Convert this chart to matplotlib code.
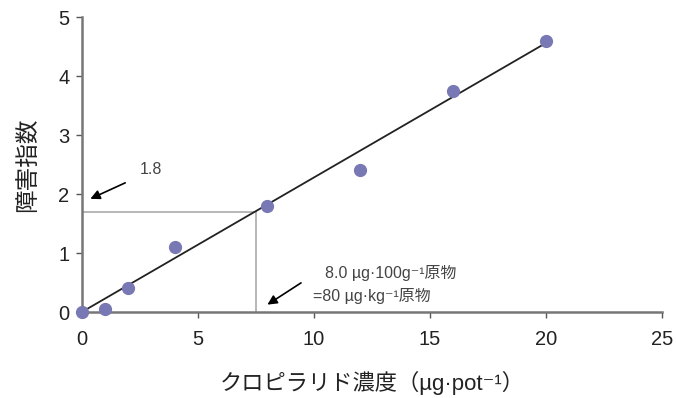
import matplotlib
matplotlib.use("Agg")
import matplotlib.pyplot as plt
import numpy as np

# Data
conc = [0, 1, 2, 4, 8, 12, 16, 20]          # µg/pot
injury = [0, 0.05, 0.4, 1.1, 1.8, 2.4, 3.75, 4.6]

# regression line through origin
slope = 0.228
line_x = [0, 20]

# threshold guide lines
thr_x = 7.5
thr_y = 1.7

plt.rcParams['font.family'] = ['Liberation Sans', 'Noto Sans CJK JP', 'DejaVu Sans']

fig = plt.figure(figsize=(6.76, 3.98), dpi=100)
ax = fig.add_axes([0.121, 0.216, 0.858, 0.741])

ax.plot(line_x, [slope * v for v in line_x], color='#222222', linewidth=1.3, zorder=2)
ax.plot([0, thr_x], [thr_y, thr_y], color='#aaaaaa', linewidth=1.2, zorder=1)
ax.plot([thr_x, thr_x], [0, thr_y], color='#aaaaaa', linewidth=1.2, zorder=1)
ax.plot(conc, injury, 'o', color='#7878b4', markersize=8.5, zorder=3, clip_on=False)

# annotations
arrow = dict(arrowstyle='-|>', color='black', lw=1.2, mutation_scale=14)
ax.annotate('', xy=(0.26, 1.9), xytext=(1.98, 2.21), arrowprops=arrow)
ax.text(2.5, 2.41, '1.8', fontsize=11.5, va='center', color='#444444')
ax.annotate('', xy=(7.9, 0.1), xytext=(9.55, 0.52), arrowprops=arrow)
ax.text(10.5, 0.67, '8.0 µg·100g⁻¹原物', fontsize=11.5, va='center', color='#444444')
ax.text(9.95, 0.27, '=80 µg·kg⁻¹原物', fontsize=11.5, va='center', color='#444444')

ax.set_xlim(0, 25)
ax.set_ylim(0, 5)
ax.set_xticks([0, 5, 10, 15, 20, 25])
ax.set_yticks([0, 1, 2, 3, 4, 5])

for s in ['top', 'right']:
    ax.spines[s].set_visible(False)
for s in ['left', 'bottom']:
    ax.spines[s].set_color('#777777')
    ax.spines[s].set_linewidth(1.8)

ax.tick_params(axis='both', colors='#555555', labelcolor='#222222', labelsize=14.5, length=4, width=1)
ax.tick_params(axis='x', pad=9)
ax.tick_params(axis='y', pad=5)

ax.set_xlabel('クロピラリド濃度（µg·pot⁻¹）', fontsize=16, color='#222222', labelpad=16)
ax.set_ylabel('障害指数', fontsize=17, color='#222222', labelpad=14)

fig.savefig('out.png', dpi=100)
